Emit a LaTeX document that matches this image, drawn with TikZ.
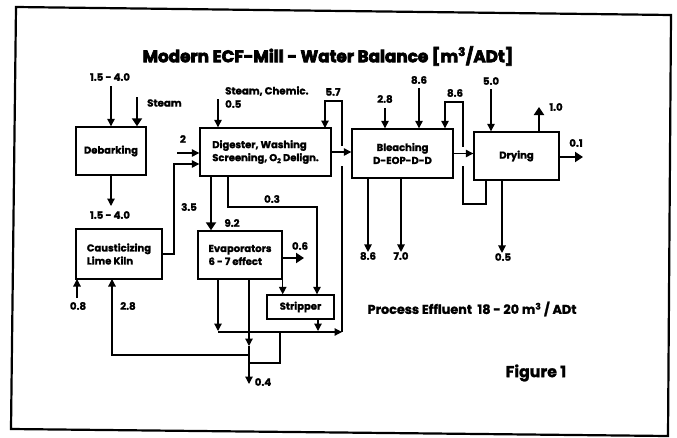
\documentclass[tikz,border=0pt]{standalone}
\usepackage{fontspec}
\setmainfont{Poppins}[BoldFeatures={FakeBold=1.5}]
\newfontfamily\titlefont[BoldFeatures={FakeBold=4}]{Poppins}
\usetikzlibrary{arrows.meta,calc}
\begin{document}
\begin{tikzpicture}[x=1pt,y=-1pt,
  box/.style={draw,line width=1.4pt,inner sep=2pt,font=\fontsize{10}{13}\selectfont\bfseries},
  lbl/.style={inner sep=0pt,font=\fontsize{10.2}{12}\selectfont\bfseries},
  ln/.style={line width=1.2pt},
  arr/.style={ln,-{Triangle[length=7.5pt,width=7.5pt]}},
  tarr/.style={line width=2.6pt,-{Triangle[length=8pt,width=10pt]}}]
\useasboundingbox (0,0) rectangle (677,437);
\draw[line width=2.2pt] (16,7) -- (671,15) -- (668,436) -- (11,429) -- cycle;
\node[inner sep=0pt,font=\titlefont\fontsize{16.8}{19}\selectfont\bfseries] (title) at (328,56) {Modern ECF-Mill - Water Balance [m\textsuperscript{3}/ADt]};
% boxes
\node[box,minimum width=70pt,minimum height=48pt] (deb) at (111,151) {Debarking};
\node[box,minimum width=131pt,minimum height=48pt,align=left] (dig) at (265.5,152) {Digester, Washing\\Screening, O\raisebox{-0.35ex}{\fontsize{6.5}{6}\selectfont 2} Delign.};
\node[box,minimum width=101pt,minimum height=49pt,align=center] (ble) at (402.5,153.5) {Bleaching\\D-EOP-D-D};
\node[box,minimum width=85pt,minimum height=48pt] (dry) at (516.5,156) {Drying};
\node[box,minimum width=86pt,minimum height=50pt,align=left] (cau) at (119,254) {Causticizing\\Lime Kiln\phantom{izin}};
\node[box,minimum width=84pt,minimum height=48pt,align=left] (eva) at (240,255) {Evaporators\\6 - 7 effect\phantom{o}};
\node[box,minimum width=67pt,minimum height=24pt] (str) at (300.5,307) {Stripper};
% labels
\node[lbl] (l15a) at (110,77) {1.5 - 4.0};
\node[lbl,anchor=west] (lst) at (147,103) {Steam};
\node[lbl] (l15b) at (110,215) {1.5 - 4.0};
\node[lbl] (l2) at (183,139) {2};
\node[lbl] (l35) at (189,207) {3.5};
\node[lbl,anchor=west] (lsc) at (225,91) {Steam, Chemic.};
\node[lbl,anchor=west] (l05) at (225,104) {0.5};
\node[lbl] (l57) at (333,92) {5.7};
\node[lbl] (l28b) at (385,99) {2.8};
\node[lbl] (l86a) at (419,80) {8.6};
\node[lbl] (l86b) at (455,93) {8.6};
\node[lbl] (l50) at (491,81) {5.0};
\node[lbl] (l10) at (556,107) {1.0};
\node[lbl] (l01) at (576,143) {0.1};
\node[lbl] (l86c) at (368,256) {8.6};
\node[lbl] (l70) at (401,256) {7.0};
\node[lbl] (l05b) at (503,257) {0.5};
\node[lbl] (l03) at (272,199) {0.3};
\node[lbl] (l92) at (232,223) {9.2};
\node[lbl] (l06) at (300,246) {0.6};
\node[lbl] (l08) at (78,306) {0.8};
\node[lbl] (l28a) at (128,306) {2.8};
\node[lbl] (l04) at (263,382) {0.4};
\node[lbl,font=\fontsize{12.8}{15}\selectfont\bfseries] (leff) at (472,309) {Process Effluent\ \ 18 - 20 m\textsuperscript{3} / ADt};
\node[lbl,font=\fontsize{15.8}{18}\selectfont\bfseries] (lfig) at (536,373) {Figure 1};
% coordinates
\coordinate (c1) at (111,86);
\coordinate (c2) at (137,97);
\coordinate (c3) at (111,206);
\coordinate (k1) at (174,164);
\coordinate (c4) at (177,153);
\coordinate (c5) at (218,99);
\coordinate (t57) at (342,101);
\coordinate (d57) at (325,128);
\coordinate (c28) at (385,108);
\coordinate (c86) at (419,88);
\coordinate (c50) at (491,89);
\coordinate (dlb) at (486,180);
\coordinate (lb1) at (463,204);
\coordinate (lb2) at (463,102);
\coordinate (lb3) at (445,102);
\coordinate (d10) at (539,132);
\coordinate (u10) at (539,107);
\coordinate (r01) at (583,157);
\coordinate (b1) at (368,178);
\coordinate (b2) at (401,178);
\coordinate (db) at (502,180);
\coordinate (s03) at (228,176);
\coordinate (t03) at (317,207);
\coordinate (s92) at (211,176);
\coordinate (e06) at (304,258);
\coordinate (e1) at (218,279);
\coordinate (h1) at (218,332);
\coordinate (cr) at (342,332);
\coordinate (sb) at (318,319);
\coordinate (e2) at (249,279);
\coordinate (m1) at (249,346);
\coordinate (m2) at (249,355);
\coordinate (m3) at (249,363);
\coordinate (o04) at (249,384);
\coordinate (lp) at (280,332);
\coordinate (lp2) at (280,363);
\coordinate (cb) at (112,279);
\coordinate (s08) at (77,298);
\coordinate (e08) at (77,279);
% connectors
\draw[arr] (c1) -- (c1 |- deb.north);
\draw[tarr] (c2) -- (c2 |- deb.north);
\draw[arr] (deb.south) -- (c3);
\draw[arr] (cau.east) -| (k1) -- (k1 -| dig.west);
\draw[arr] (c4) -- (c4 -| dig.west);
\draw[arr] (c5) -- (c5 |- dig.north);
\draw[arr] (cr) -- (t57) -- (t57 -| d57) -- (d57);
\draw[arr] (c28) -- (c28 |- ble.north);
\draw[arr] (c86) -- (c86 |- ble.north);
\draw[arr] (dlb) -- (dlb |- lb1) -- (lb1) -- (lb2) -- (lb3) -- (lb3 |- ble.north);
\fill[white] (338,146) rectangle (348,166);
\fill[white] (458,147) rectangle (468,166);
\draw[arr] (dig.east) -- (dig.east -| ble.west);
\draw[arr] (ble.east) -- (ble.east -| dry.west);
\draw[arr] (c50) -- (c50 |- dry.north);
\draw[tarr] (d10) -- (u10);
\draw[tarr] (dry.east |- r01) -- (r01);
\draw[arr] (b1) -- (b1 |- l86c.north);
\draw[arr] (b2) -- (b2 |- l70.north);
\draw[arr] (db) -- (db |- l05b.north);
\draw[arr] (s03) |- (t03) -- (t03 |- str.north);
\draw[tarr] (s92) -- (s92 |- eva.north);
\draw[tarr] (eva.east |- e06) -- (e06);
\draw[arr] (eva.south east) -- (eva.south east |- str.north);
\draw[arr] (e1) -- ([yshift=1pt]h1);
\draw[arr] (h1) -- (cr);
\draw[arr] (sb) -- ([yshift=1pt]sb |- h1);
\draw[arr] (e2) -- (m1);
\draw[arr] (m1) -- (o04);
\draw[ln] (lp) -- (lp2) -- (m3);
\draw[arr] (m2) -| (cb);
\draw[arr] (s08) -- (e08);
\end{tikzpicture}
\end{document}
